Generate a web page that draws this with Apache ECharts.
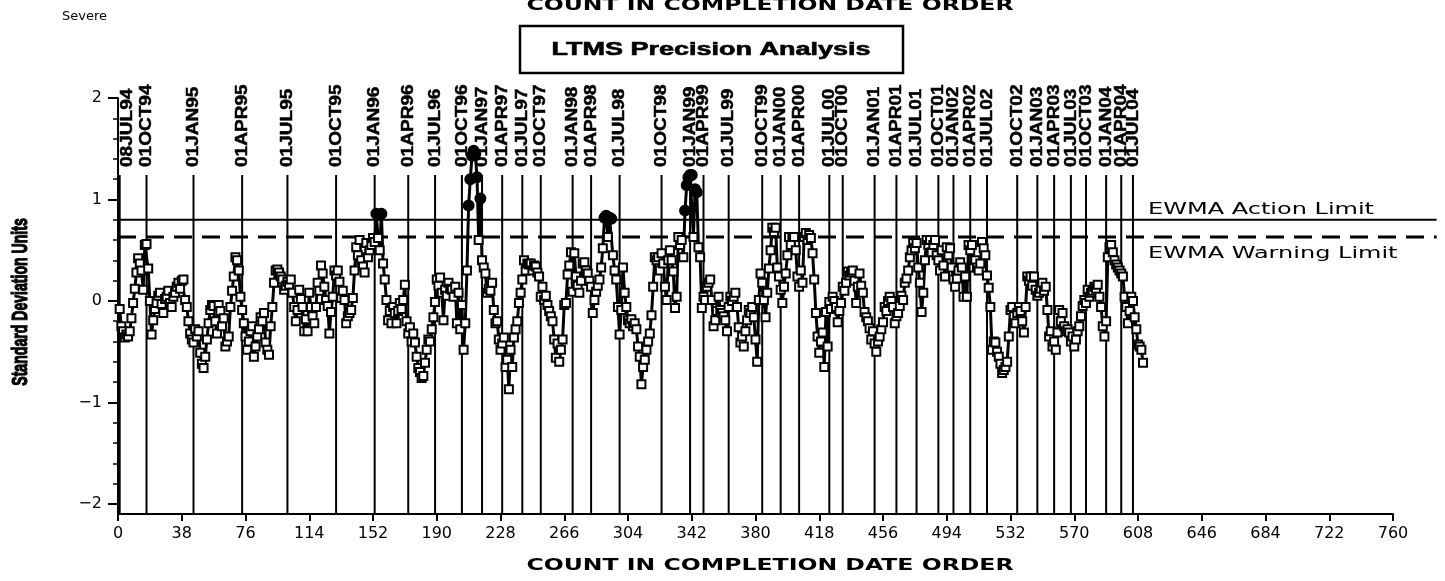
<!DOCTYPE html>
<html><head><meta charset="utf-8">
<script src="https://cdn.jsdelivr.net/npm/echarts@6/dist/echarts.min.js"></script>
<style>html,body{margin:0;padding:0;background:#fff}#c{width:1445px;height:581px}</style>
</head><body><div id="c"></div>
<script>
// ---- data ----
const ewmaValues = [
-0.08,-0.25,-0.30,-0.36,-0.33,-0.35,-0.30,-0.17,-0.02,0.12,
0.28,0.42,0.37,0.30,0.11,0.55,0.56,0.32,0.00,-0.33,
-0.19,-0.08,-0.02,0.05,0.08,-0.03,-0.12,0.02,0.04,0.10,
-0.02,-0.06,0.04,0.08,0.14,0.18,0.12,0.20,0.21,0.01,
-0.06,-0.20,-0.32,-0.38,-0.41,-0.28,-0.35,-0.30,-0.51,-0.62,
-0.66,-0.55,-0.38,-0.22,-0.09,-0.04,-0.05,-0.20,-0.32,-0.04,
-0.10,-0.25,-0.17,-0.45,-0.40,-0.35,-0.06,0.10,0.24,0.43,
0.40,0.30,0.04,-0.09,-0.22,-0.35,-0.48,-0.40,-0.30,-0.25,
-0.55,-0.45,-0.35,-0.28,-0.16,-0.20,-0.12,-0.41,-0.48,-0.53,
-0.25,-0.06,0.18,0.30,0.31,0.28,0.24,0.21,0.11,0.15,
0.19,0.16,0.21,0.08,-0.06,-0.20,-0.09,0.11,0.02,-0.06,
-0.30,-0.18,-0.30,0.08,-0.06,-0.15,-0.22,-0.06,0.18,0.10,
0.35,0.27,0.14,0.01,-0.05,-0.32,-0.11,0.04,0.30,0.25,
0.30,0.19,0.03,0.10,0.01,-0.22,-0.15,-0.12,-0.09,0.03,
0.30,0.53,0.45,0.60,0.40,0.34,0.28,0.57,0.43,0.50,
0.55,0.62,0.58,0.86,0.62,0.50,0.86,0.37,0.21,0.01,
-0.19,-0.10,-0.22,-0.06,-0.12,-0.22,-0.10,-0.02,-0.08,0.01,
0.16,-0.20,-0.32,-0.26,-0.40,-0.32,-0.41,-0.55,-0.66,-0.70,
-0.76,-0.74,-0.61,-0.48,-0.38,-0.40,-0.28,-0.16,-0.01,0.21,
0.15,0.23,0.08,-0.19,0.11,0.05,0.18,0.12,0.11,0.04,
0.14,-0.22,0.08,-0.28,-0.04,-0.48,-0.22,0.30,0.94,1.20,
1.43,1.48,1.45,1.22,0.60,1.01,0.40,0.33,0.27,0.08,
0.12,0.10,0.18,-0.09,-0.22,-0.20,-0.38,-0.48,-0.42,-0.36,
-0.65,-0.58,-0.87,-0.48,-0.65,-0.36,-0.28,-0.20,-0.02,0.08,
0.21,0.40,0.30,0.37,0.36,0.37,0.30,0.35,0.34,0.28,
0.24,0.04,0.14,0.01,0.05,-0.04,-0.10,-0.15,-0.20,-0.38,
-0.56,-0.42,-0.60,-0.48,-0.38,-0.04,-0.02,0.26,0.35,0.48,
0.09,0.47,0.24,0.15,0.08,0.20,0.37,0.38,0.30,0.27,
0.20,0.14,-0.12,0.01,0.09,0.15,0.21,0.33,0.52,0.82,
0.84,0.63,0.82,0.81,0.45,0.30,0.21,-0.06,-0.33,-0.09,
0.33,0.08,-0.06,-0.19,-0.22,-0.18,-0.25,-0.22,-0.28,-0.45,
-0.55,-0.82,-0.65,-0.58,-0.48,-0.40,-0.32,-0.14,0.14,0.43,
0.40,0.43,0.30,0.47,0.37,0.14,0.01,0.40,0.50,0.40,
0.29,-0.07,0.04,0.63,0.55,0.60,0.43,0.89,1.14,1.22,
1.24,1.24,0.63,1.10,1.07,0.53,0.43,-0.07,0.04,0.01,
0.14,0.18,0.21,0.01,-0.25,-0.19,-0.10,0.04,-0.09,-0.12,
-0.15,-0.19,-0.30,-0.06,0.04,0.00,0.04,0.08,-0.06,-0.26,
-0.41,-0.35,-0.45,-0.30,-0.19,-0.09,-0.12,-0.06,-0.16,-0.38,
-0.60,0.01,0.27,0.18,0.01,-0.16,0.08,0.32,0.50,0.72,
0.68,0.72,0.33,0.24,0.11,-0.02,0.14,0.27,0.45,0.63,
0.55,0.63,0.63,0.50,0.24,0.14,0.30,0.18,0.63,0.67,
0.60,0.65,0.62,0.47,0.21,-0.12,-0.35,-0.51,-0.40,-0.31,
-0.65,-0.11,-0.45,-0.01,-0.08,0.04,0.00,-0.06,-0.21,-0.10,
-0.02,0.14,0.10,0.18,0.29,0.25,0.28,0.30,0.20,-0.02,
0.14,0.27,0.15,0.08,-0.11,-0.16,-0.20,-0.27,-0.38,-0.30,
-0.42,-0.50,-0.40,-0.35,-0.28,-0.21,-0.06,-0.10,0.00,0.04,
0.00,-0.06,-0.22,-0.15,-0.12,-0.05,0.05,0.01,0.18,0.22,
0.30,0.43,0.50,0.57,0.52,0.57,0.33,0.18,-0.11,0.08,
0.40,0.60,0.55,0.60,0.48,0.55,0.60,0.45,0.40,0.30,
0.50,0.35,0.24,0.53,0.45,0.52,0.33,0.21,0.14,0.22,
0.30,0.38,0.33,0.04,0.24,0.04,0.55,0.50,0.55,0.33,
0.40,0.33,0.30,0.37,0.58,0.52,0.45,0.25,0.13,-0.06,
-0.48,-0.40,-0.41,-0.50,-0.55,-0.62,-0.71,-0.68,-0.65,-0.60,
-0.35,-0.09,-0.06,-0.15,-0.22,-0.12,-0.06,-0.10,-0.20,-0.31,
-0.06,0.24,0.20,0.24,0.15,0.24,0.11,0.05,0.08,0.12,
0.18,0.10,0.14,-0.09,-0.35,-0.30,-0.45,-0.40,-0.48,-0.31,
-0.09,-0.20,-0.12,-0.25,-0.30,-0.28,-0.31,-0.40,-0.35,-0.45,
-0.38,-0.30,-0.25,-0.15,-0.05,0.01,-0.02,0.11,0.04,0.08,
0.10,0.14,0.12,0.16,0.04,-0.06,-0.25,-0.35,-0.20,0.43,
0.53,0.55,0.48,0.40,0.36,0.33,0.30,0.27,0.24,0.04,
-0.06,-0.22,-0.10,0.04,0.00,-0.16,-0.28,-0.43,-0.45,-0.48,
-0.61
];
const refDates = ['08JUL94','01OCT94','01JAN95','01APR95','01JUL95','01OCT95','01JAN96','01APR96','01JUL96','01OCT96',
'01JAN97','01APR97','01JUL97','01OCT97','01JAN98','01APR98','01JUL98','01OCT98','01JAN99','01APR99',
'01JUL99','01OCT99','01JAN00','01APR00','01JUL00','01OCT00','01JAN01','01APR01','01JUL01','01OCT01',
'01JAN02','01APR02','01JUL02','01OCT02','01JAN03','01APR03','01JUL03','01OCT03','01JAN04','01APR04','01JUL04'];
const refCounts = [1,17,45,74,101,130,153,173,189,205,
217,229,241,252,271,282,299,324,341,349,
364,384,395,406,424,432,451,464,476,489,
498,508,518,536,548,558,568,577,589,598,605];
const limitValues = [0.8, 0.63];
const limitNames = ['EWMA Action Limit', 'EWMA Warning Limit'];
const yLabelValues = [-2, -1, 0, 1, 2];
const xMin = 0, xMax = 760, xStep = 38;
const yMin = -2.1, yMax = 2;

// ---- layout constants ----
const refTop = 1.24, refLabelBase = 1.32, limitEnd = 786, limitLabelX = 614;
const actionLimit = limitValues[0];

const seriesData = ewmaValues.map((v, i) => {
  const item = { value: [i + 1, v] };
  if (v > actionLimit) {
    item.symbol = 'circle';
    item.symbolSize = 10;
    item.itemStyle = { color: '#000', borderColor: '#000' };
  }
  return item;
});
const minorTicks = [];
for (let k = -20; k <= 20; k += 2) { if (k % 10 !== 0) minorTicks.push(k / 10); }

const chart = echarts.init(document.getElementById('c'), null, { renderer: 'canvas' });
const axisFont = { fontFamily: 'DejaVu Sans', fontSize: 16, color: '#000' };
chart.setOption({
  animation: false,
  backgroundColor: '#fff',
  grid: { left: 118, right: 52, top: 98, bottom: 67, containLabel: false },
  xAxis: {
    type: 'value', min: xMin, max: xMax, interval: xStep,
    axisLine: { show: true, onZero: false, lineStyle: { color: '#000', width: 2 } },
    axisTick: { show: true, length: 7, lineStyle: { color: '#000', width: 2 } },
    axisLabel: Object.assign({ margin: 12 }, axisFont),
    splitLine: { show: false }
  },
  yAxis: [{
    type: 'value', min: yMin, max: yMax,
    axisLine: { show: true, onZero: false, lineStyle: { color: '#000', width: 2 } },
    axisTick: { show: true, length: 10, customValues: yLabelValues, lineStyle: { color: '#000', width: 2 } },
    axisLabel: Object.assign({ margin: 16, customValues: yLabelValues,
      formatter: v => (v < 0 ? '\u2212' + (-v) : String(v)) }, axisFont),
    splitLine: { show: false }
  }, {
    type: 'value', min: yMin, max: yMax, position: 'left',
    axisLine: { show: false },
    axisTick: { show: true, length: 5, customValues: minorTicks, lineStyle: { color: '#000', width: 1.5 } },
    axisLabel: { show: false },
    splitLine: { show: false }
  }],
  graphic: [
    { type: 'text', x: 62, y: 17, style: { text: 'Severe', font: '13px "DejaVu Sans"', fill: '#000', verticalAlign: 'middle' } },
    { type: 'text', x: 770, y: 6, scaleX: 1.57, style: { text: 'COUNT IN COMPLETION DATE ORDER', font: 'bold 15px "DejaVu Sans"', fill: '#000', align: 'center', verticalAlign: 'middle' } },
    { type: 'rect', shape: { x: 520, y: 26, width: 383, height: 47 }, style: { fill: '#fff', stroke: '#000', lineWidth: 2.5 } },
    { type: 'text', x: 711, y: 50, scaleX: 1.5, style: { text: 'LTMS Precision Analysis', font: 'bold 18px "Liberation Sans"', fill: '#000', stroke: '#000', lineWidth: 0.6, align: 'center', verticalAlign: 'middle' } },
    { type: 'text', x: 21, y: 302, rotation: Math.PI / 2, scaleX: 0.64, style: { text: 'Standard Deviation Units', font: 'bold 22px "Liberation Sans"', fill: '#000', stroke: '#000', lineWidth: 1.2, align: 'center', verticalAlign: 'middle' } },
    { type: 'text', x: 770, y: 566, scaleX: 1.57, style: { text: 'COUNT IN COMPLETION DATE ORDER', font: 'bold 15px "DejaVu Sans"', fill: '#000', align: 'center', verticalAlign: 'middle' } }
  ],
  series: [
    {
      type: 'custom', silent: true, z: 1, clip: false,
      data: refCounts.map((c, i) => [c, i]),
      renderItem(params, api) {
        const x = api.value(0);
        const top = api.coord([x, refTop]);
        const bot = api.coord([x, yMin]);
        const lab = api.coord([x, refLabelBase]);
        const left = api.coord([xMin, 0])[0];
        return { type: 'group', children: [
          { type: 'line', shape: { x1: top[0], y1: top[1], x2: bot[0], y2: bot[1] }, style: { stroke: '#000', lineWidth: 2 } },
          { type: 'text', x: Math.max(lab[0], left + 9), y: lab[1], rotation: Math.PI / 2, scaleX: 1.12,
            style: { text: refDates[api.value(1)], font: 'bold 17px "Liberation Sans"', fill: '#000', stroke: '#000', lineWidth: 0.5, align: 'left', verticalAlign: 'middle' } }
        ] };
      }
    },
    {
      type: 'custom', silent: true, z: 1, clip: false,
      data: limitValues.map((v, i) => [v, i]),
      renderItem(params, api) {
        const v = api.value(0), i = api.value(1);
        const a = api.coord([xMin, v]);
        const b = api.coord([limitEnd, v]);
        const t = api.coord([limitLabelX, v]);
        return { type: 'group', children: [
          { type: 'line', shape: { x1: a[0], y1: a[1], x2: b[0], y2: b[1] },
            style: { stroke: '#000', lineWidth: i === 0 ? 2 : 3, lineDash: i === 0 ? null : [18, 10] } },
          { type: 'text', x: t[0], y: t[1] + (i === 0 ? -10 : 17), scaleX: 1.5,
            style: { text: limitNames[i], font: '16px "DejaVu Sans"', fill: '#000', align: 'left', verticalAlign: 'middle' } }
        ] };
      }
    },
    {
      type: 'line', z: 3,
      data: seriesData,
      symbol: 'rect', symbolSize: 8, showAllSymbol: true,
      itemStyle: { color: '#fff', borderColor: '#000', borderWidth: 2 },
      lineStyle: { color: '#000', width: 3 },
      emphasis: { disabled: true }
    }
  ]
});
</script>
</body></html>
